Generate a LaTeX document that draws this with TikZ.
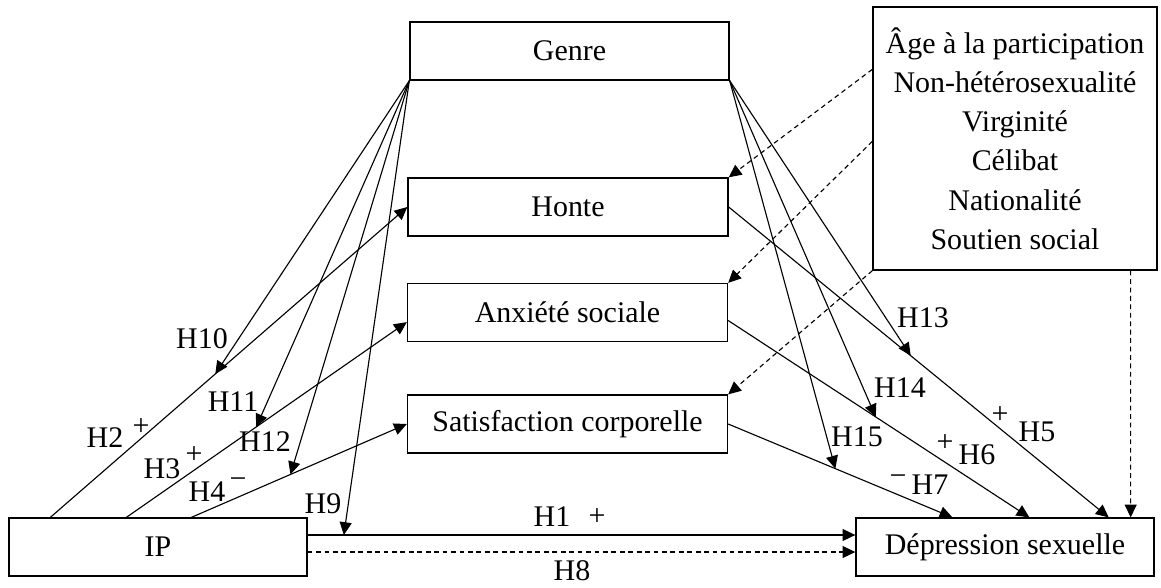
\documentclass[tikz,border=0pt]{standalone}
\usepackage{fontspec}
\setmainfont{Liberation Serif}
\usetikzlibrary{positioning,arrows.meta}
\tikzset{
	var/.style={%
		draw, line width=0.9pt,
		minimum width=#1,
		minimum height=1.45cm,
		inner sep=0pt
	},
	var/.default=8cm,
	link/.style={line width=0.8pt, -{Triangle[length=0.32cm,width=0.3cm]}},
	covlink/.style={link, dash pattern=on 3.4pt off 2.6pt},
	hyp/.style={inner sep=0pt},
	>=Triangle
}

\begin{document}
\begin{tikzpicture}[x=0.025cm, y=-0.025cm,
		font=\fontsize{21.3}{27.9}\selectfont]
		\useasboundingbox (0,0) rectangle (1161,587);
		
		% Boxes
		\node[var=7.975cm] (genre) at (569.5,51) {Genre};
		\node[var] (honte) at (568,207) {Honte};
		\node[var] (anxiete) at (567.5,312.5) {Anxiété sociale};
		\node[var] (satisf) at (567.5,424) {Satisfaction corporelle};
		\node[var=7.45cm] (ip) at (158,547) {IP};
		\node[var=7.45cm] (depression) at (1005,547) {Dépression sexuelle};
		
		\node (covar) at (1015,138.5) [draw,line width=0.9pt,minimum width=7.1cm,minimum height=6.575cm,align=center,inner sep=0pt] {Âge à la participation\\Non-hétérosexualité\\Virginité\\Célibat\\Nationalité\\Soutien social};
		
		%IP to mediators and outcome
		\draw[link] ([xshift=1.05cm]ip.north west) -- coordinate[pos=0.462] (h10tip) (honte.west);
		\draw[link] ([xshift=2.95cm]ip.north west) -- coordinate[pos=0.463] (h11tip) ([yshift=-0.24cm]anxiete.west);
		\draw[link] ([xshift=4.575cm]ip.north west) -- coordinate[pos=0.46] (h12tip) (satisf.west);
		\draw[link] ([yshift=0.3cm]ip.east) -- coordinate[pos=0.066] (h9tip) ([yshift=0.3cm]ip.east -| depression.west);
		\draw[covlink] ([yshift=-0.125cm]ip.east) -- ([yshift=-0.125cm]ip.east -| depression.west);
		
		%mediators to outcome
		\draw[link] (honte.east) -- coordinate[pos=0.479] (h13tip) ([xshift=-1.15cm]depression.north east);
		\draw[link] ([yshift=-0.2cm]anxiete.east) -- coordinate[pos=0.49] (h14tip) ([xshift=4.35cm]depression.north west);
		\draw[link] (satisf.east) -- coordinate[pos=0.478] (h15tip) ([xshift=2.425cm]depression.north west);
		
		%moderation by genre
		\foreach \tip in {h10tip,h11tip,h12tip,h9tip}
			\draw[link] (genre.south west) -- (\tip);
		\foreach \tip in {h13tip,h14tip,h15tip}
			\draw[link] (genre.south east) -- (\tip);
		
		%control variables
		\draw[covlink] ([yshift=-1.575cm]covar.north west) -- (honte.north east);
		\draw[covlink] ([yshift=-3.375cm]covar.north west) -- (anxiete.north east);
		\draw[covlink] (covar.south west) -- (satisf.north east);
		\draw[covlink] ([xshift=-0.675cm]covar.south east) -- ([xshift=-0.6cm]depression.north east);
		
		% Hypothesis labels
		\node[hyp] (lh10) at (202,339) {H10};
		\node[hyp] (lh11) at (233,402) {H11};
		\node[hyp] (lh12) at (265,442) {H12};
		\node[hyp] (lh9) at (323,504) {H9};
		\node[hyp] (lh2) at (105,438) {H2};
		\node[hyp] (sh2) at (141,427) {+};
		\node[hyp] (lh3) at (162,469) {H3};
		\node[hyp] (sh3) at (194,455) {+};
		\node[hyp] (lh4) at (207,492) {H4};
		\node[hyp] (sh4) at (238,483) {−};
		\node[hyp] (lh1) at (552,517) {H1};
		\node[hyp] (sh1) at (597,517) {+};
		\node[hyp] (lh8) at (572,571) {H8};
		\node[hyp] (lh13) at (923,318) {H13};
		\node[hyp] (lh14) at (900,388) {H14};
		\node[hyp] (lh15) at (857,437) {H15};
		\node[hyp] (sh5) at (1000,415) {+};
		\node[hyp] (lh5) at (1037,432) {H5};
		\node[hyp] (sh6) at (945,443) {+};
		\node[hyp] (lh6) at (977,455) {H6};
		\node[hyp] (sh7) at (898,480) {−};
		\node[hyp] (lh7) at (930,485) {H7};
		
		\end{tikzpicture}
\end{document}
